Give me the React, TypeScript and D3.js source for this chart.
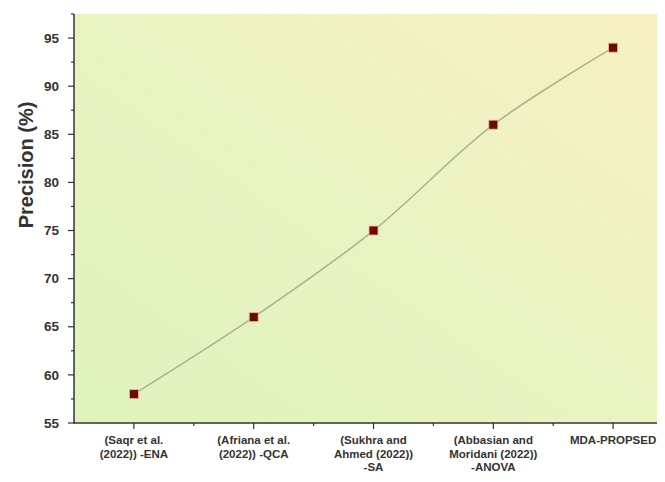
import * as d3 from 'd3';
import { useEffect, useRef } from 'react';

const categories = [
    ['(Saqr et al.', '(2022)) -ENA'],
    ['(Afriana et al.', '(2022)) -QCA'],
    ['(Sukhra and', 'Ahmed (2022))', '-SA'],
    ['(Abbasian and', 'Moridani (2022))', '-ANOVA'],
    ['MDA-PROPSED'],
];
const precision = [58, 66, 75, 86, 94];
const yTicks = [55, 60, 65, 70, 75, 80, 85, 90, 95];
const yMinorTicks = [57.5, 62.5, 67.5, 72.5, 77.5, 82.5, 87.5, 92.5, 97.5];

function App() {
    const ref = useRef<SVGSVGElement>(null);

    useEffect(() => {
        const width = 665, height = 482;
        const left = 74, top = 14, bottom = 423, right = 665;
        const svg = d3.select(ref.current);
        svg.selectAll('*').remove();

        const x = d3.scaleLinear().domain([-0.5, 4.433]).range([left, right]);
        const y = d3.scaleLinear().domain([55, 97.5]).range([bottom, top]);

        const defs = svg.append('defs');
        const grad = defs.append('linearGradient')
            .attr('id', 'bg')
            .attr('x1', '0%').attr('y1', '100%')
            .attr('x2', '100%').attr('y2', '0%');
        grad.append('stop').attr('offset', '0%').attr('stop-color', '#dff2bd');
        grad.append('stop').attr('offset', '50%').attr('stop-color', '#e9f3c2');
        grad.append('stop').attr('offset', '100%').attr('stop-color', '#f8f0c3');

        svg.append('rect')
            .attr('width', width).attr('height', height)
            .attr('fill', '#ffffff');

        svg.append('rect')
            .attr('x', left).attr('y', top)
            .attr('width', right - left).attr('height', bottom - top)
            .attr('fill', 'url(#bg)');

        const textColor = '#333333';
        const font = 'Liberation Sans, Arial, sans-serif';

        // y axis
        const yAxis = svg.append('g').attr('transform', `translate(${left},0)`);
        yAxis.append('line')
            .attr('y1', top).attr('y2', bottom)
            .attr('stroke', '#333').attr('stroke-width', 1.5);
        yAxis.selectAll('.major').data(yTicks).join('line')
            .attr('x1', -6).attr('x2', 0)
            .attr('y1', d => y(d)).attr('y2', d => y(d))
            .attr('stroke', '#333').attr('stroke-width', 1.2);
        yAxis.selectAll('.minor').data(yMinorTicks).join('line')
            .attr('x1', -3).attr('x2', 0)
            .attr('y1', d => y(d)).attr('y2', d => y(d))
            .attr('stroke', '#333').attr('stroke-width', 1.2);
        yAxis.selectAll('text').data(yTicks).join('text')
            .attr('x', -15).attr('y', d => y(d))
            .attr('dy', '0.35em')
            .attr('text-anchor', 'end')
            .attr('font-family', font)
            .attr('font-weight', 'bold')
            .attr('font-size', 13.5)
            .attr('fill', textColor)
            .text(d => d);

        svg.append('text')
            .attr('transform', 'rotate(-90)')
            .attr('x', -165)
            .attr('y', 33)
            .attr('text-anchor', 'middle')
            .attr('font-family', font)
            .attr('font-weight', 'bold')
            .attr('font-size', 20)
            .attr('fill', textColor)
            .text('Precision (%)');

        // x axis
        const xAxis = svg.append('g').attr('transform', `translate(0,${bottom})`);
        xAxis.append('line')
            .attr('x1', left - 1).attr('x2', right)
            .attr('stroke', '#333').attr('stroke-width', 1.5);
        const idx = d3.range(categories.length);
        xAxis.selectAll('.major').data(idx).join('line')
            .attr('x1', d => x(d)).attr('x2', d => x(d))
            .attr('y1', 0).attr('y2', 6)
            .attr('stroke', '#333').attr('stroke-width', 1.2);
        xAxis.selectAll('.minor').data(idx.map(d => d + 0.5)).join('line')
            .attr('x1', d => x(d)).attr('x2', d => x(d))
            .attr('y1', 0).attr('y2', 3)
            .attr('stroke', '#333').attr('stroke-width', 1.2);

        const labels = xAxis.selectAll('.lab').data(categories).join('text')
            .attr('x', (_, i) => x(i))
            .attr('y', 21)
            .attr('text-anchor', 'middle')
            .attr('font-family', font)
            .attr('font-weight', 'bold')
            .attr('font-size', 11.5)
            .attr('fill', textColor);
        labels.each(function (d, i) {
            d3.select(this).selectAll('tspan').data(d).join('tspan')
                .attr('x', x(i))
                .attr('dy', (_, j) => (j === 0 ? 0 : 13.5))
                .text(t => t);
        });

        // line
        const line = d3.line<number>()
            .x((_, i) => x(i))
            .y(d => y(d))
            .curve(d3.curveCatmullRom.alpha(0.5));
        svg.append('path')
            .datum(precision)
            .attr('fill', 'none')
            .attr('stroke', '#aab58c')
            .attr('stroke-width', 1.6)
            .attr('d', line);

        // markers
        svg.selectAll('.pt').data(precision).join('rect')
            .attr('x', (_, i) => x(i) - 4.5)
            .attr('y', d => y(d) - 4.5)
            .attr('width', 9).attr('height', 9)
            .attr('fill', '#6a0d00')
            .attr('stroke', '#f0b89a')
            .attr('stroke-width', 0.8);
    }, []);

    return (
        <div style={{ margin: -8 }}>
            <svg ref={ref} width={665} height={482} style={{ display: 'block' }} />
        </div>
    );
}

export default App;
